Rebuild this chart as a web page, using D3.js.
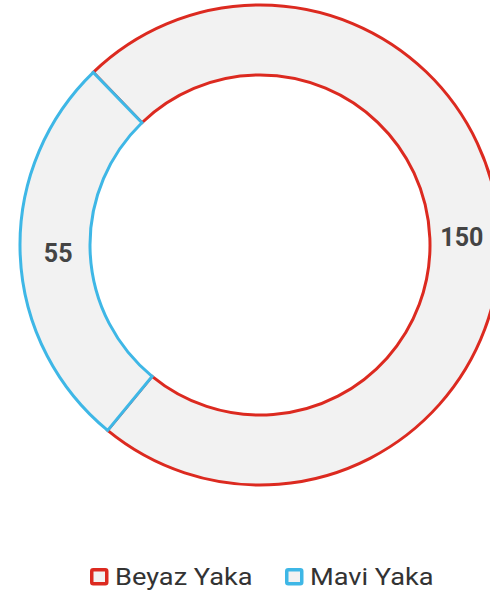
<!DOCTYPE html>
<html>
<head>
<meta charset="utf-8">
<script src="https://cdn.jsdelivr.net/npm/d3@7"></script>
<style>
  body { margin: 0; background: #fff; }
  svg { display: block; font-family: Roboto, sans-serif; }
</style>
</head>
<body>
<svg id="vis" width="490" height="598"></svg>
<script>
// chart data
var categories = ["Beyaz Yaka", "Mavi Yaka"];
var values = [150, 55];
var strokeColors = ["#dc2a20", "#3eb7e6"];

var svg = d3.select("svg#vis");

var attr = {
  cx: 260,
  cy: 245,
  outer: 240,
  inner: 170,
  startAngle: -44 * Math.PI / 180
};

var data = categories.map(function(c, i) {
  return { name: c, value: values[i], color: strokeColors[i] };
});

var pie = d3.pie()
  .sort(null)
  .value(d => d.value)
  .startAngle(attr.startAngle)
  .endAngle(attr.startAngle + 2 * Math.PI);

var arc = d3.arc()
  .innerRadius(attr.inner)
  .outerRadius(attr.outer);

var labelArc = d3.arc()
  .innerRadius((attr.inner + attr.outer) / 2 - 3)
  .outerRadius((attr.inner + attr.outer) / 2 - 3);

var g = svg.append("g")
  .attr("transform", "translate(" + attr.cx + "," + attr.cy + ")");

var arcs = pie(data);

g.selectAll("path.slice")
  .data(arcs)
  .enter()
  .append("path")
  .attr("class", "slice")
  .attr("d", arc)
  .style("fill", "#f2f2f2")
  .style("stroke", d => d.data.color)
  .style("stroke-width", 3)
  .style("stroke-linejoin", "miter");

g.selectAll("text.value")
  .data(arcs)
  .enter()
  .append("text")
  .attr("class", "value")
  .attr("x", d => labelArc.centroid(d)[0])
  .attr("y", d => labelArc.centroid(d)[1])
  .attr("text-anchor", "middle")
  .attr("dy", "0.36em")
  .style("font-size", "25px")
  .style("font-weight", "bold")
  .style("fill", "#444")
  .text(d => d.data.value);

// legend
var legendX = [90, 285];
var legend = svg.append("g").attr("class", "legend");

var items = legend.selectAll("g.item")
  .data(data)
  .enter()
  .append("g")
  .attr("class", "item")
  .attr("transform", (d, i) => "translate(" + legendX[i] + ",568)");

items.append("rect")
  .attr("x", 1.75)
  .attr("y", 1.75)
  .attr("width", 15)
  .attr("height", 14)
  .attr("rx", 1.5)
  .style("fill", "#f2f2f2")
  .style("stroke", d => d.color)
  .style("stroke-width", 3.5);

items.append("text")
  .attr("transform", "translate(25,16.5) scale(1.11,1)")
  .style("font-size", "24.5px")
  .style("fill", "#333")
  .text(d => d.name);
</script>
</body>
</html>
